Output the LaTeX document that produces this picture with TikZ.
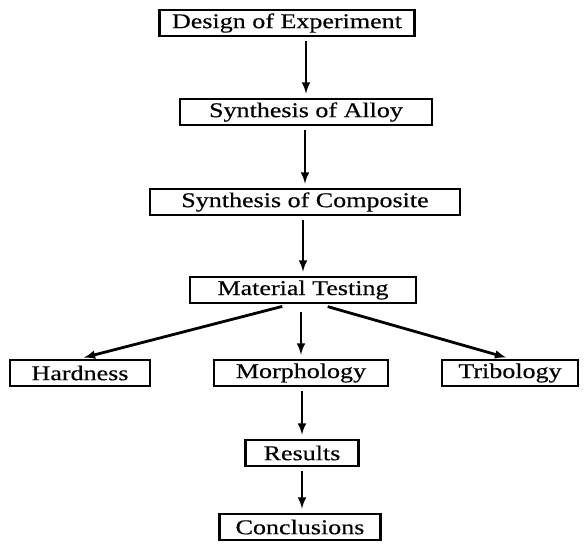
\documentclass[tikz,border=0pt]{standalone}
\usepackage{fontspec}
\setmainfont{Liberation Serif}[FakeStretch=1.24,FakeBold=0.4]
\usetikzlibrary{arrows}

\begin{document}
\begin{tikzpicture}[x=1pt,y=-1pt,
  box/.style={draw,line width=2.8pt,inner sep=0pt,minimum height=26pt,
    font=\fontsize{21}{24}\selectfont},
  arr/.style={-latex,line width=2.8pt,shorten <=4pt,shorten >=4pt}]
\useasboundingbox (0,0) rectangle (587,546);
\node[box,minimum width=255pt] (design) at (287,23) {Design of Experiment};
\node[box,minimum width=252pt] (alloy) at (306,112) {Synthesis of Alloy};
\node[box,minimum width=310pt] (comp) at (305,202) {Synthesis of Composite};
\node[box,minimum width=226pt] (mat) at (303,290) {Material Testing};
\node[box,minimum width=140pt] (hard) at (80,373) {Hardness};
\node[box,minimum width=174pt] (morph) at (301,373) {Morphology};
\node[box,minimum width=136pt] (trib) at (510,373) {Tribology};
\node[box,minimum width=113pt] (res) at (302,453) {Results};
\node[box,minimum width=161pt] (concl) at (300,527) {Conclusions};
\draw[arr] (design.south -| alloy) -- (alloy.north);
\draw[arr] (alloy.south -| comp) -- (comp.north);
\draw[arr] (comp.south -| mat) -- (mat.north);
\draw[arr,shorten <=8pt] ([xshift=-13pt]mat.south) -- (hard.north);
\draw[arr,shorten <=8pt] (mat.south -| morph) -- (morph.north);
\draw[arr,shorten <=8pt] ([xshift=17pt]mat.south) -- (trib.north);
\draw[arr] (morph.south -| res) -- (res.north);
\draw[arr] (res.south) -- (concl.north -| res);
\end{tikzpicture}
\end{document}
